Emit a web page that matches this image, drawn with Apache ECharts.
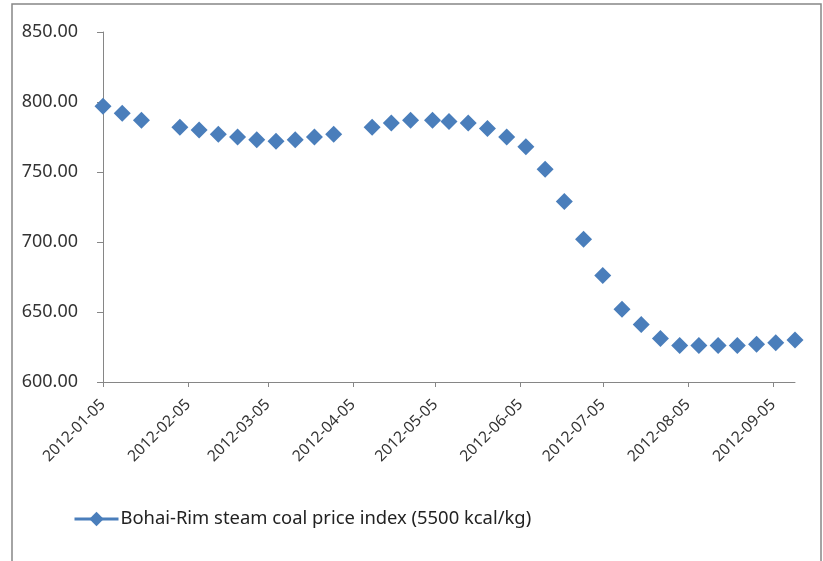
<!DOCTYPE html>
<html><head><meta charset="utf-8">
<script src="https://cdn.jsdelivr.net/npm/echarts@6/dist/echarts.min.js"></script>
<style>html,body{margin:0;padding:0;background:#fff}#c{width:823px;height:561px}</style>
</head><body><div id="c"></div>
<script>
const dates = ['2012-01-05','2012-01-12','2012-01-19','2012-02-02','2012-02-09','2012-02-16','2012-02-23','2012-03-01','2012-03-08','2012-03-15','2012-03-22','2012-03-29','2012-04-12','2012-04-19','2012-04-26','2012-05-04','2012-05-10','2012-05-17','2012-05-24','2012-05-31','2012-06-07','2012-06-14','2012-06-21','2012-06-28','2012-07-05','2012-07-12','2012-07-19','2012-07-26','2012-08-02','2012-08-09','2012-08-16','2012-08-23','2012-08-30','2012-09-06','2012-09-13'];
const prices = [797,792,787,782,780,777,775,773,772,773,775,777,782,785,787,787,786,785,781,775,768,752,729,702,676,652,641,631,626,626,626,626,627,628,630];
const xTicks = ['2012-01-05','2012-02-05','2012-03-05','2012-04-05','2012-05-05','2012-06-05','2012-07-05','2012-08-05','2012-09-05'];
const xRange = ['2012-01-05','2012-09-13'];
const yTicks = [600,650,700,750,800,850];
const seriesName = 'Bohai-Rim steam coal price index (5500 kcal/kg)';

function toTs(s){const p=s.split('-').map(Number);return new Date(p[0],p[1]-1,p[2]).getTime();}
function fmt(ts){const d=new Date(ts);const p=n=>String(n).padStart(2,'0');return d.getFullYear()+'-'+p(d.getMonth()+1)+'-'+p(d.getDate());}

const chart = echarts.init(document.getElementById('c'), null, {renderer:'canvas'});
const axisColor = '#868686';
const textColor = '#333333';
const font = 'Noto Sans';
chart.setOption({
  animation:false,
  backgroundColor:'#fff',
  grid:{left:103,right:28,top:32,bottom:179,containLabel:false},
  xAxis:{
    type:'value',
    min:toTs(xRange[0]), max:toTs(xRange[1]),
    axisLine:{show:true,onZero:false,lineStyle:{color:axisColor,width:1}},
    axisTick:{show:true,length:5,lineStyle:{color:axisColor},customValues:xTicks.map(toTs)},
    axisLabel:{show:true,rotate:45,margin:20,color:textColor,fontSize:15.5,fontFamily:font,customValues:xTicks.map(toTs),formatter:v=>fmt(v),showMinLabel:true,showMaxLabel:true},
    splitLine:{show:false}
  },
  yAxis:{
    type:'value',min:yTicks[0],max:yTicks[yTicks.length-1],interval:50,
    axisLine:{show:true,lineStyle:{color:axisColor,width:1}},
    axisTick:{show:true,length:6,lineStyle:{color:axisColor}},
    axisLabel:{color:textColor,fontSize:18,fontFamily:font,margin:25,formatter:v=>v.toFixed(2)},
    splitLine:{show:false}
  },
  legend:{
    show:true,left:73,top:510,padding:0,itemWidth:44,itemHeight:18,
    data:[seriesName],
    lineStyle:{width:3,color:'#4a7ebb',opacity:1},
    textStyle:{color:'#222',fontSize:18.4,fontFamily:font,padding:[0,0,0,-3]}
  },
  series:[{
    name:seriesName,type:'line',
    data:dates.map((d,i)=>[toTs(d),prices[i]]),
    symbol:'diamond',symbolSize:17,showSymbol:true,showAllSymbol:true,
    itemStyle:{color:'#4a7ebb'},
    lineStyle:{width:0,opacity:0},
    emphasis:{disabled:true}
  }],
  graphic:[{type:'rect',shape:{x:12,y:4,width:809,height:620},style:{fill:'none',stroke:axisColor,lineWidth:1.5},silent:true}]
});
</script></body></html>
